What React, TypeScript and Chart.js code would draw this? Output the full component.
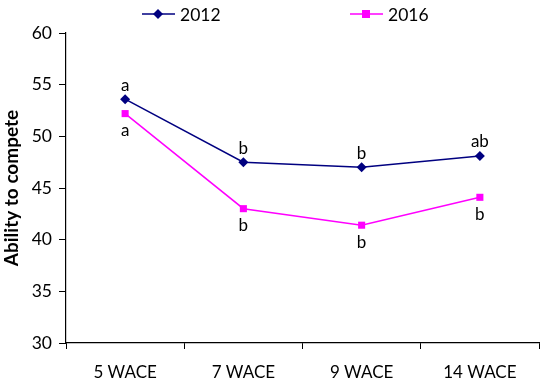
import { useEffect, useRef } from 'react';
import { Chart, registerables } from 'chart.js';
Chart.register(...registerables);

const categories = ['5 WACE', '7 WACE', '9 WACE', '14 WACE'];
const values2012 = [53.6, 47.5, 47.0, 48.1];
const values2016 = [52.2, 43.0, 41.4, 44.1];
const letters2012 = ['a', 'b', 'b', 'ab'];
const letters2016 = ['a', 'b', 'b', 'b'];
const seriesNames = ['2012', '2016'];
const yMin = 30;
const yMax = 60;
const yStep = 5;

const FONT = 'Lato, Carlito, "Liberation Sans", sans-serif';
const NAVY = '#000080';
const MAGENTA = '#FF00FF';

function drawMarker(ctx: CanvasRenderingContext2D, style: string, x: number, y: number, r: number, color: string) {
  ctx.save();
  ctx.fillStyle = color;
  ctx.beginPath();
  if (style === 'rectRot') {
    ctx.moveTo(x, y - r);
    ctx.lineTo(x + r, y);
    ctx.lineTo(x, y + r);
    ctx.lineTo(x - r, y);
    ctx.closePath();
  } else {
    ctx.rect(x - r * 0.8, y - r * 0.8, r * 1.6, r * 1.6);
  }
  ctx.fill();
  ctx.restore();
}

const lettersPlugin = {
  id: 'letters',
  afterDatasetsDraw(chart: any) {
    const ctx = chart.ctx as CanvasRenderingContext2D;
    ctx.save();
    ctx.font = `17px ${FONT}`;
    ctx.fillStyle = '#000';
    ctx.textAlign = 'center';
    ctx.textBaseline = 'middle';
    const m0 = chart.getDatasetMeta(0);
    const m1 = chart.getDatasetMeta(1);
    m0.data.forEach((p: any, i: number) => {
      ctx.fillText(letters2012[i], p.x, p.y - 14);
    });
    m1.data.forEach((p: any, i: number) => {
      ctx.fillText(letters2016[i], p.x, p.y + 17);
    });
    ctx.restore();
  },
};

const legendPlugin = {
  id: 'customLegend',
  afterDraw(chart: any) {
    const ctx = chart.ctx as CanvasRenderingContext2D;
    const items = [
      { name: seriesNames[0], color: NAVY, style: 'rectRot', x: 142 },
      { name: seriesNames[1], color: MAGENTA, style: 'rect', x: 350 },
    ];
    const y = 14;
    ctx.save();
    ctx.font = `17.5px ${FONT}`;
    ctx.textBaseline = 'middle';
    ctx.textAlign = 'left';
    items.forEach((it) => {
      ctx.strokeStyle = it.color;
      ctx.lineWidth = 1.5;
      ctx.beginPath();
      ctx.moveTo(it.x, y);
      ctx.lineTo(it.x + 33, y);
      ctx.stroke();
      drawMarker(ctx, it.style, it.x + 16, y, 5, it.color);
      ctx.fillStyle = '#000';
      ctx.fillText(it.name, it.x + 38, y + 1);
    });
    ctx.restore();
  },
};

export default function App() {
  const ref = useRef<HTMLCanvasElement>(null);
  useEffect(() => {
    document.body.style.margin = '0';
    const chart = new Chart(ref.current!, {
      type: 'line',
      data: {
        labels: categories,
        datasets: [
          {
            label: seriesNames[0],
            data: values2012,
            borderColor: NAVY,
            backgroundColor: NAVY,
            borderWidth: 1.5,
            pointStyle: 'rectRot',
            pointRadius: 5,
            pointBorderWidth: 0,
            tension: 0,
          },
          {
            label: seriesNames[1],
            data: values2016,
            borderColor: MAGENTA,
            backgroundColor: MAGENTA,
            borderWidth: 1.5,
            pointStyle: 'rect',
            pointRadius: 5,
            pointBorderWidth: 0,
            tension: 0,
          },
        ],
      },
      options: {
        animation: false,
        responsive: false,
        maintainAspectRatio: false,
        layout: { padding: { top: 33, right: 11, left: 0, bottom: 0 } },
        plugins: { legend: { display: false }, tooltip: { enabled: false } },
        scales: {
          x: {
            offset: true,
            grid: { display: true, drawOnChartArea: false, drawTicks: true, tickLength: 6, color: '#000', offset: true },
            border: { display: true, color: '#000', width: 1.2 },
            ticks: { color: '#000', font: { family: FONT, size: 17 }, padding: 13, maxRotation: 0 },
            afterFit: (s: any) => { s.height = 43; },
          },
          y: {
            min: yMin,
            max: yMax,
            grid: { display: true, drawOnChartArea: false, drawTicks: true, tickLength: 7, color: '#000' },
            border: { display: true, color: '#000', width: 1.2 },
            ticks: { stepSize: yStep, color: '#000', font: { family: FONT, size: 17.5 }, padding: 7 },
            title: { display: true, text: 'Ability to compete', color: '#000', font: { family: FONT, size: 19, weight: 'bold' }, padding: { top: 0, bottom: 0 } },
            afterFit: (s: any) => { s.width = 66; },
          },
        },
      },
      plugins: [lettersPlugin, legendPlugin],
    });
    return () => chart.destroy();
  }, []);
  return (
    <div style={{ width: 550, height: 386 }}>
      <canvas ref={ref} width={550} height={386} style={{ width: 550, height: 386, display: 'block' }} />
    </div>
  );
}
